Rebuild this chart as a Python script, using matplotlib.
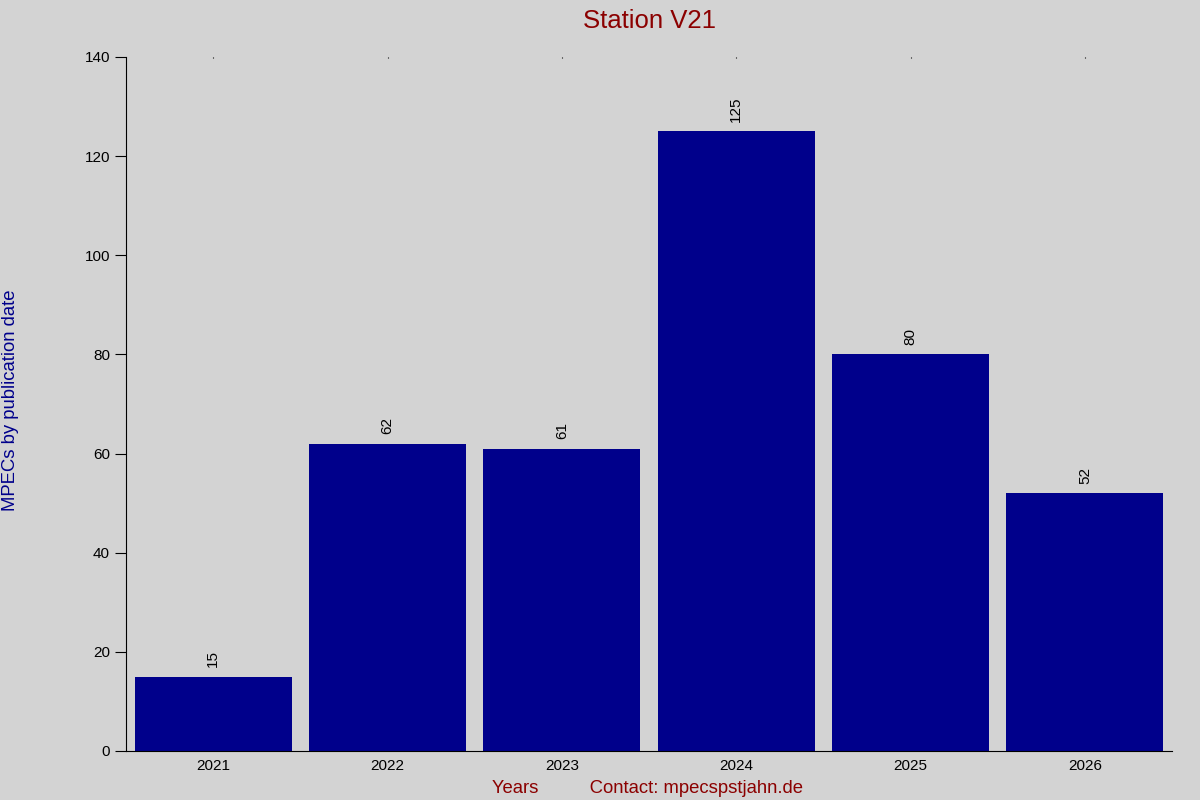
import matplotlib.pyplot as plt

plt.rcParams['font.family'] = ['Liberation Sans', 'DejaVu Sans']

years = [2021, 2022, 2023, 2024, 2025, 2026]
counts = [15, 62, 61, 125, 80, 52]
yticks = [0, 20, 40, 60, 80, 100, 120, 140]

bg = "#d3d3d3"
fig = plt.figure(figsize=(12, 8), dpi=100, facecolor=bg)
ax = fig.add_axes([0.105, 0.06125, 0.8717, 0.8675], facecolor=bg)

ax.bar(years, counts, width=0.9, color="#00008b")

for x, v in zip(years, counts):
    ax.annotate(str(v), (x, v), xytext=(0, 7), textcoords="offset points",
                rotation=90, ha="center", va="bottom", fontsize=11)

ax.set_xlim(2020.5, 2026.5)
ax.set_ylim(0, 140)
ax.set_xticks(years)
ax.set_yticks(yticks)

ax.spines["top"].set_visible(False)
ax.spines["right"].set_visible(False)
ax.tick_params(axis="y", direction="out", length=8, labelsize=11)
ax.tick_params(axis="x", bottom=False, top=True, direction="in", length=1,
               labelsize=11, pad=6)

ax.set_title("Station V21", color="#8b0000", fontsize=18.5, pad=21)
fig.text(0.54, 0.009, "Years          Contact: mpecspstjahn.de",
         color="#8b0000", fontsize=13.3, ha="center")
fig.text(0.002, 0.5, "MPECs by publication date", color="#00008b",
         fontsize=13.3, rotation=90, va="center")

fig.savefig("out.png", dpi=100, facecolor=bg)
